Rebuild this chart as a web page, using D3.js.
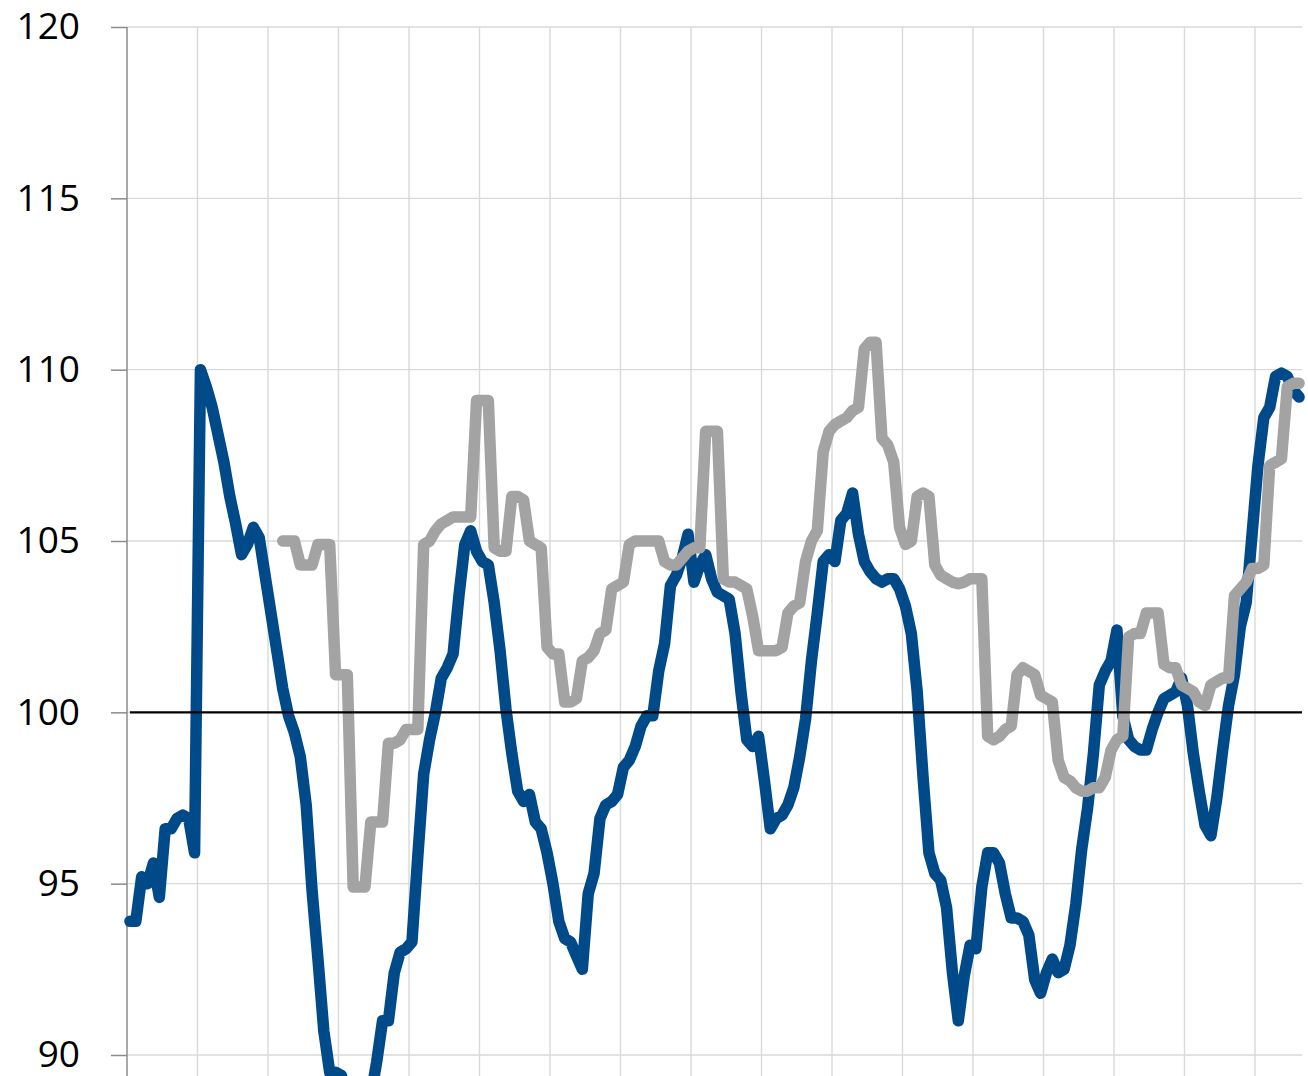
<!DOCTYPE html>
<html>
<head>
<meta charset="utf-8">
<script src="https://cdn.jsdelivr.net/npm/d3@7"></script>
<style>
  html, body { margin: 0; padding: 0; background: #ffffff; }
  svg { display: block; }
</style>
</head>
<body>
<svg id="chart" width="1308" height="1076"></svg>
<script>
// Monthly index series (blue), one value per month starting at month 0
const indexMonthly = [
  93.9, 93.9, 95.2, 95.0, 95.6, 94.6, 96.6, 96.6, 96.9, 97.0,
  96.9, 95.9, 110.0, 109.5, 108.9, 108.1, 107.3, 106.3, 105.5, 104.6,
  104.9, 105.4, 105.1, 104.0, 102.9, 101.8, 100.7, 99.9, 99.4, 98.7,
  97.3, 94.8, 92.8, 90.7, 89.5, 89.5, 89.4, 88.7, 88.2, 88.0,
  88.2, 88.8, 89.8, 91.0, 91.0, 92.4, 93.0, 93.1, 93.3, 95.8,
  98.2, 99.2, 100.0, 101.0, 101.3, 101.7, 103.4, 104.9, 105.3, 104.7,
  104.4, 104.3, 103.2, 101.8, 100.1, 98.8, 97.7, 97.4, 97.6, 96.8,
  96.6, 95.9, 95.0, 93.9, 93.4, 93.3, 92.9, 92.5, 94.7, 95.3,
  96.9, 97.3, 97.4, 97.6, 98.4, 98.6, 99.0, 99.6, 99.9, 99.9,
  101.2, 102.0, 103.7, 104.0, 104.5, 105.2, 103.8, 104.3, 104.6, 103.9,
  103.5, 103.4, 103.3, 102.3, 100.6, 99.2, 99.0, 99.3, 98.0, 96.6,
  96.9, 97.0, 97.3, 97.8, 98.7, 99.8, 101.5, 102.9, 104.4, 104.6,
  104.4, 105.6, 105.8, 106.4, 105.2, 104.4, 104.1, 103.9, 103.8, 103.9,
  103.9, 103.6, 103.1, 102.3, 100.6, 98.1, 95.9, 95.3, 95.1, 94.3,
  92.4, 91.0, 92.3, 93.2, 93.1, 94.9, 95.9, 95.9, 95.6, 94.7,
  94.0, 94.0, 93.9, 93.5, 92.2, 91.8, 92.4, 92.8, 92.4, 92.5,
  93.2, 94.4, 96.0, 97.2, 98.8, 100.8, 101.2, 101.5, 102.4, 99.9,
  99.2, 99.0, 98.9, 98.9, 99.5, 100.0, 100.4, 100.5, 100.6, 101.0,
  100.2, 98.8, 97.7, 96.7, 96.4, 97.5, 98.9, 100.2, 101.1, 102.5,
  103.2, 105.2, 107.2, 108.6, 108.9, 109.8, 109.9, 109.8, 109.4, 109.2
];

// Second series (grey), monthly values beginning at month 26
const secondStart = 26;
const secondMonthly = [
  105.0, 105.0, 105.0, 104.3,
  104.3, 104.3, 104.9, 104.9, 104.9, 101.1, 101.1, 101.1, 94.9, 94.9,
  94.9, 96.8, 96.8, 96.8, 99.1, 99.1, 99.2, 99.5, 99.5, 99.5,
  104.9, 105.0, 105.3, 105.5, 105.6, 105.7, 105.7, 105.7, 105.7, 109.1,
  109.1, 109.1, 104.8, 104.7, 104.7, 106.3, 106.3, 106.2, 105.0, 104.9,
  104.8, 101.9, 101.7, 101.7, 100.3, 100.3, 100.4, 101.5, 101.6, 101.8,
  102.3, 102.4, 103.6, 103.7, 103.8, 104.9, 105.0, 105.0, 105.0, 105.0,
  105.0, 104.4, 104.3, 104.3, 104.5, 104.7, 104.8, 104.8, 108.2, 108.2,
  108.2, 103.9, 103.8, 103.8, 103.7, 103.6, 102.8, 101.8, 101.8, 101.8,
  101.8, 101.9, 102.9, 103.1, 103.2, 104.4, 105.0, 105.3, 107.6, 108.2,
  108.4, 108.5, 108.6, 108.8, 108.9, 110.6, 110.8, 110.8, 108.0, 107.8,
  107.3, 105.4, 104.9, 105.0, 106.3, 106.4, 106.3, 104.3, 104.0, 103.9,
  103.8, 103.75, 103.8, 103.9, 103.9, 103.9, 99.3, 99.2, 99.3, 99.5,
  99.6, 101.1, 101.3, 101.2, 101.1, 100.5, 100.4, 100.3, 98.6, 98.1,
  98.0, 97.8, 97.7, 97.7, 97.8, 97.8, 98.1, 98.9, 99.2, 99.3,
  102.2, 102.3, 102.3, 102.9, 102.9, 102.9, 101.4, 101.3, 101.3, 100.8,
  100.7, 100.6, 100.3, 100.2, 100.8, 100.9, 101.0, 101.0, 103.4, 103.6,
  103.8, 104.2, 104.2, 104.3, 107.2, 107.3, 107.4, 109.5, 109.6, 109.6
];

// Axis ticks and reference level
const yTicks = [90, 95, 100, 105, 110, 115, 120];
const baseline = 100;
const monthsShown = 200;
const monthsPerGrid = 12;

const svg = d3.select("#chart");
const W = 1308, H = 1076;
const left = 127, right = 1302;

const x = d3.scaleLinear().domain([0, monthsShown]).range([left, right]);
const y = d3.scaleLinear().domain([90, 120]).range([1055, 27]);
const xm = m => x(m + 0.5);   // points sit in the middle of each month slot

svg.append("rect").attr("width", W).attr("height", H).attr("fill", "#ffffff");

// Gridlines
const grid = svg.append("g");
grid.selectAll("line.h").data(yTicks).join("line")
  .attr("x1", left).attr("x2", right)
  .attr("y1", d => y(d)).attr("y2", d => y(d))
  .attr("stroke", "#d9d9d9").attr("stroke-width", 1.4);
grid.selectAll("line.v").data(d3.range(monthsPerGrid, monthsShown, monthsPerGrid)).join("line")
  .attr("x1", d => x(d)).attr("x2", d => x(d))
  .attr("y1", y(120)).attr("y2", H)
  .attr("stroke", "#d9d9d9").attr("stroke-width", 1.4);

// Left axis with outward ticks
const axis = d3.axisLeft(y).tickValues(yTicks).tickSize(16).tickPadding(31).tickFormat(d3.format("d"));
const gAxis = svg.append("g").attr("transform", `translate(${left},0)`).call(axis);
gAxis.select(".domain").remove();
gAxis.selectAll(".tick line").attr("stroke", "#8c8c8c").attr("stroke-width", 1.5);
gAxis.selectAll(".tick text")
  .attr("fill", "#000000")
  .style("font-family", "'Open Sans', 'Noto Sans', sans-serif")
  .style("font-size", "37px");
svg.append("line")
  .attr("x1", left).attr("x2", left).attr("y1", y(120)).attr("y2", H)
  .attr("stroke", "#8c8c8c").attr("stroke-width", 1.5);

const lineGen = d3.line()
  .x(d => xm(d.m))
  .y(d => y(d.v))
  .curve(d3.curveLinear);

const blueData = indexMonthly.map((v, i) => ({ m: i, v }));
const greyData = secondMonthly.map((v, i) => ({ m: secondStart + i, v }));

svg.append("path").datum(blueData)
  .attr("d", lineGen)
  .attr("fill", "none")
  .attr("stroke", "#004a8a")
  .attr("stroke-width", 11.5)
  .attr("stroke-linejoin", "round")
  .attr("stroke-linecap", "round");

svg.append("path").datum(greyData)
  .attr("d", lineGen)
  .attr("fill", "none")
  .attr("stroke", "#a3a3a3")
  .attr("stroke-width", 11.5)
  .attr("stroke-linejoin", "round")
  .attr("stroke-linecap", "round");

// Reference level at 100
svg.append("line")
  .attr("x1", xm(0)).attr("x2", right)
  .attr("y1", y(baseline)).attr("y2", y(baseline))
  .attr("stroke", "#000000").attr("stroke-width", 2.2);
</script>
</body>
</html>
